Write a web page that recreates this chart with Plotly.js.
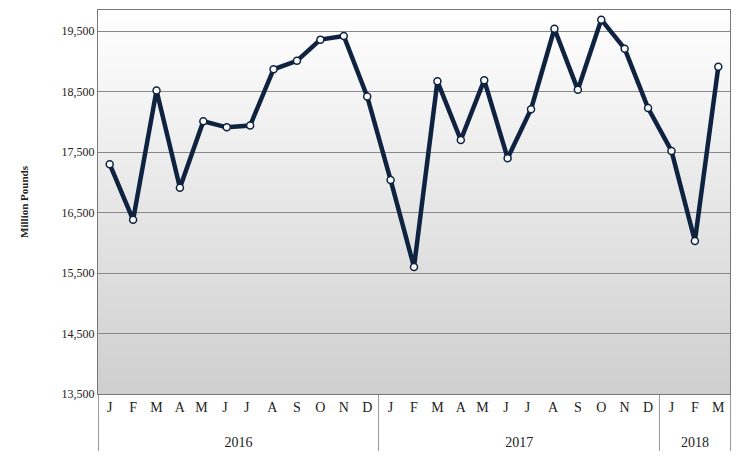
<!DOCTYPE html>
<html>
<head>
<script src="https://cdn.plot.ly/plotly-3.0.1.min.js"></script>
<style>body{margin:0}</style>
</head>
<body>
<div id="chart" style="width:737px;height:460px"></div>
<script>
// Monatswerte, Millionen Pfund
const jahre = ["2016","2016","2016","2016","2016","2016","2016","2016","2016","2016","2016","2016",
  "2017","2017","2017","2017","2017","2017","2017","2017","2017","2017","2017","2017",
  "2018","2018","2018"];
const monate = ["J","F","M","A","M ","J ","J  ","A ","S","O","N","D",
  "J","F","M","A","M ","J ","J  ","A ","S","O","N","D",
  "J","F","M"];
const werte = [17300,16380,18520,16910,18010,17910,17940,18870,19010,19360,19420,18420,
  17040,15600,18670,17700,18690,17400,18210,19540,18530,19690,19210,18230,
  17520,16030,18910];
const yTicks = [13500,14500,15500,16500,17500,18500,19500];

const verlauf = "data:image/svg+xml;utf8," + encodeURIComponent(
  '<svg xmlns="http://www.w3.org/2000/svg" width="10" height="100" preserveAspectRatio="none">' +
  '<defs><linearGradient id="g" x1="0" y1="0" x2="0" y2="1">' +
  '<stop offset="0" stop-color="#ffffff"/><stop offset="1" stop-color="#cfcfcf"/></linearGradient></defs>' +
  '<rect width="10" height="100" fill="url(#g)"/></svg>');

const daten = [{
  x: [jahre.map(j => "<br>" + j), monate],
  y: werte,
  type: "scatter",
  mode: "lines+markers",
  line: { color: "#0f2340", width: 4.5 },
  marker: { color: "white", size: 7, line: { color: "#0f2340", width: 1.5 } },
  hoverinfo: "y"
}];

const layout = {
  width: 737, height: 460,
  margin: { t: 10, r: 7, b: 66, l: 98 },
  paper_bgcolor: "white",
  plot_bgcolor: "rgba(0,0,0,0)",
  font: { family: "Liberation Serif", size: 13, color: "#222" },
  showlegend: false,
  images: [{
    source: verlauf, xref: "paper", yref: "paper", x: 0, y: 1,
    sizex: 1, sizey: 1, sizing: "stretch", layer: "below"
  }],
  xaxis: {
    type: "multicategory",
    range: [-0.5, 26.5],
    showgrid: false,
    tickangle: 0,
    ticklen: 8, tickcolor: "rgba(0,0,0,0)",
    showline: true, linecolor: "#777", mirror: true,
    showdividers: true, dividercolor: "#999",
    tickfont: { size: 14 }
  },
  yaxis: {
    range: [13500, 19850],
    tickvals: yTicks,
    ticktext: yTicks.map(v => v.toLocaleString("en-US")),
    showgrid: true, gridcolor: "#888",
    showline: true, linecolor: "#777", mirror: true,
    zeroline: false,
    tickfont: { size: 12 },
    title: { text: "<b>Million Pounds</b>", font: { size: 11, family: "Liberation Serif" }, standoff: 30 }
  }
};

Plotly.newPlot("chart", daten, layout, { displayModeBar: false });
</script>
</body>
</html>
